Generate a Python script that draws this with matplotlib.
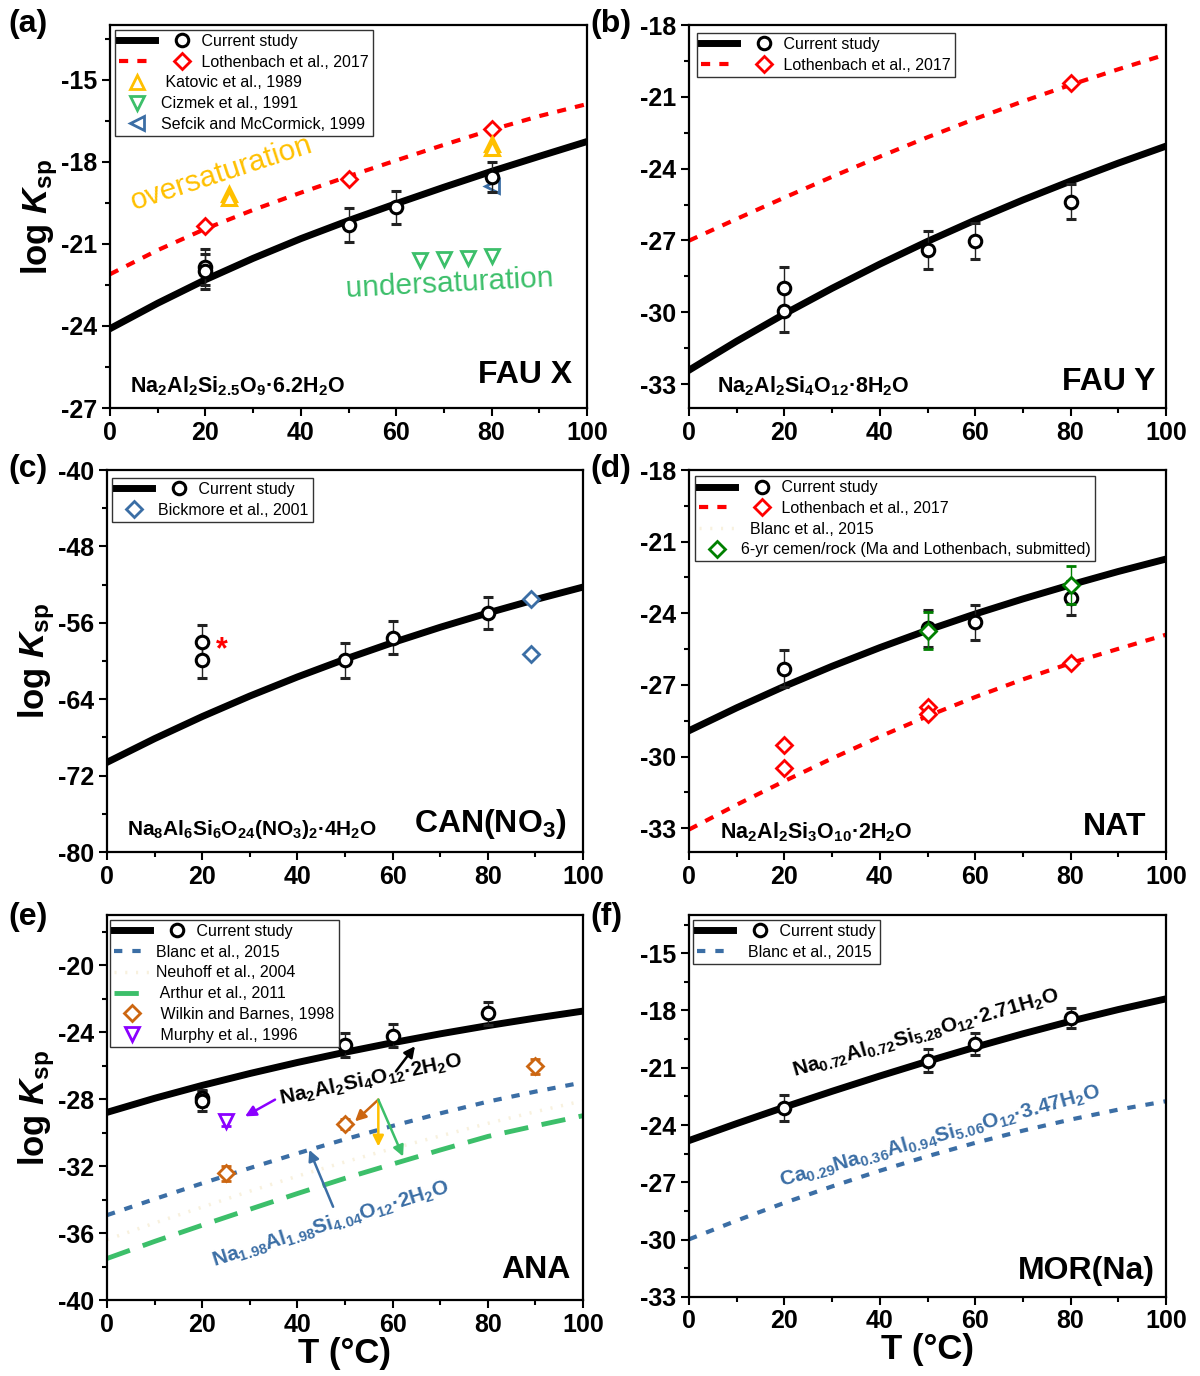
import numpy as np
import matplotlib
matplotlib.use("Agg")
import matplotlib.pyplot as plt
from matplotlib.lines import Line2D
from matplotlib.legend_handler import HandlerBase
from matplotlib.ticker import MultipleLocator

plt.rcParams['font.family'] = ['Liberation Sans', 'DejaVu Sans']
plt.rcParams['axes.unicode_minus'] = False
plt.rcParams['mathtext.fontset'] = 'custom'
plt.rcParams['mathtext.rm'] = 'Liberation Sans:bold'
plt.rcParams['mathtext.it'] = 'Liberation Sans:italic:bold'
plt.rcParams['mathtext.bf'] = 'Liberation Sans:bold'

# colours
RED = '#FF0000'
GOLD = '#FFC000'
GREEN = '#3CBF6A'
BLUE = '#3B6EA5'
ORANGE = '#CC6611'
PURPLE = '#8B00FF'
DKGREEN = '#008000'
FAINT = '#F8F1DE'

# ---------------- data ----------------
T_line = [0, 10, 20, 30, 40, 50, 60, 70, 80, 90, 100]

# (a) FAU X
a_cur_line = [-24.10, -23.17, -22.31, -21.53, -20.81, -20.15, -19.53, -18.93, -18.35, -17.80, -17.26]
a_lot_line = [-22.11, -21.23, -20.45, -19.76, -19.13, -18.53, -17.95, -17.38, -16.83, -16.33, -15.89]
a_cur_T = [20, 20, 50, 60, 80]
a_cur = [-21.84, -22.01, -20.31, -19.67, -18.57]
a_cur_err = [0.65, 0.65, 0.61, 0.59, 0.55]
a_lot_T = [20, 50, 80]
a_lot = [-20.34, -18.63, -16.80]
a_kat_T = [25, 25, 80, 80]
a_kat = [-19.18, -19.32, -17.35, -17.50]
a_ciz_T = [65, 70, 75, 80]
a_ciz = [-21.60, -21.54, -21.50, -21.44]
a_sef_T = [80]
a_sef = [-18.88]

# (b) FAU Y
b_cur_line = [-32.42, -31.21, -30.07, -29.00, -27.99, -27.04, -26.15, -25.31, -24.52, -23.77, -23.06]
b_lot_line = [-27.01, -26.10, -25.21, -24.34, -23.50, -22.69, -21.92, -21.19, -20.50, -19.85, -19.23]
b_cur_T = [20, 20, 50, 60, 80]
b_cur = [-28.99, -29.96, -27.40, -27.01, -25.38]
b_cur_err = [0.88, 0.88, 0.81, 0.75, 0.74]
b_lot_T = [80]
b_lot = [-20.42]

# (c) CAN(NO3)
c_cur_line = [-70.61, -68.13, -65.82, -63.67, -61.67, -59.81, -58.08, -56.47, -54.97, -53.57, -52.26]
c_cur_T = [20, 20, 50, 60, 80]
c_cur = [-58.02, -59.93, -59.93, -57.57, -54.96]
c_cur_err = [1.80, 1.80, 1.83, 1.72, 1.65]
c_bick_T = [89, 89]
c_bick = [-53.5, -59.3]

# (d) NAT
d_cur_line = [-28.92, -27.96, -27.06, -26.22, -25.44, -24.71, -24.03, -23.40, -22.81, -22.25, -21.73]
d_lot_line = [-33.06, -32.02, -31.03, -30.08, -29.17, -28.31, -27.51, -26.77, -26.09, -25.49, -24.90]
d_cur_T = [20, 50, 60, 80]
d_cur = [-26.33, -24.63, -24.38, -23.36]
d_cur_err = [0.77, 0.78, 0.73, 0.71]
d_lot_T = [20, 20, 50, 50, 80]
d_lot = [-29.52, -30.49, -27.91, -28.22, -26.09]
d_ma_T = [50, 80]
d_ma = [-24.73, -22.82]
d_ma_err = [0.78, 0.78]

# (e) ANA
e_cur_line = [-28.79, -27.95, -27.18, -26.47, -25.81, -25.20, -24.63, -24.10, -23.61, -23.16, -22.74]
e_blanc = [-34.93, -33.97, -33.03, -32.12, -31.24, -30.40, -29.60, -28.85, -28.15, -27.55, -27.00]
e_neuhoff = [-36.40, -35.40, -34.45, -33.50, -32.60, -31.75, -30.95, -30.20, -29.45, -28.75, -28.10]
e_arthur = [-37.52, -36.50, -35.53, -34.58, -33.64, -32.73, -31.88, -31.04, -30.23, -29.60, -28.99]
e_cur_T = [20, 20, 50, 60, 80]
e_cur = [-27.93, -28.13, -24.74, -24.20, -22.88]
e_cur_err = [0.50, 0.60, 0.72, 0.70, 0.68]
e_wil_T = [25, 50, 90]
e_wil = [-32.43, -29.49, -26.03]
e_wil_err = [0.45, 0.30, 0.45]
e_mur_T = [25]
e_mur = [-29.33]
e_mur_err = [0.25]

# (f) MOR(Na)
f_cur_line = [-24.81, -23.92, -23.06, -22.23, -21.43, -20.66, -19.92, -19.22, -18.56, -17.95, -17.39]
f_blanc = [-29.98, -29.00, -28.07, -27.21, -26.39, -25.63, -24.93, -24.29, -23.71, -23.19, -22.75]
f_cur_T = [20, 50, 60, 80]
f_cur = [-23.13, -20.63, -19.76, -18.40]
f_cur_err = [0.68, 0.61, 0.58, 0.52]

# ---------------- figure ----------------
W, H = 1200, 1376
fig = plt.figure(figsize=(12, 13.76), dpi=100)


def px_axes(l, t, r, b):
    return fig.add_axes([l / W, 1 - b / H, (r - l) / W, (b - t) / H])


ax_a = px_axes(110, 25, 587, 408)
ax_b = px_axes(689, 25, 1166, 408)
ax_c = px_axes(107, 470, 583, 852)
ax_d = px_axes(689, 470, 1166, 852)
ax_e = px_axes(107, 915, 583, 1300)
ax_f = px_axes(689, 915, 1166, 1297)

LOT_LS = (0, (2.2, 2.2))
BLANC_LS = (0, (2.0, 2.4))
ARTHUR_LS = (0, (5, 2.8))
FAINT_LS = (0, (0.6, 2.5))


def style(ax, ylim, major, minor, ylabel=False, xlabel=False):
    ax.set_xlim(0, 100)
    ax.set_ylim(*ylim)
    ax.xaxis.set_major_locator(MultipleLocator(20))
    ax.xaxis.set_minor_locator(MultipleLocator(10))
    ax.yaxis.set_major_locator(MultipleLocator(major))
    ax.yaxis.set_minor_locator(MultipleLocator(minor))
    ax.tick_params(which='both', direction='out', top=False, right=False, width=1.5)
    ax.tick_params(which='major', length=6, labelsize=18, pad=3)
    ax.tick_params(which='minor', length=3.5)
    for s in ax.spines.values():
        s.set_linewidth(1.6)
    for lab in ax.get_xticklabels() + ax.get_yticklabels():
        lab.set_fontweight('bold')
    if ylabel:
        ax.set_ylabel(r'log $\mathit{K}_\mathrm{sp}$', fontsize=25, fontweight='bold', labelpad=1)
    if xlabel:
        ax.set_xlabel('T (°C)', fontsize=25, fontweight='bold', labelpad=0)


def cur_plot(ax, T, y, err):
    ax.errorbar(T, y, yerr=err, fmt='o', ms=9, mfc='white', mec='k', mew=2.2,
                ecolor='#222222', elinewidth=1, capsize=3.5, capthick=1, zorder=4)


# legend entries: a line in the handle box and/or a marker (beside it, or centred)
class Entry:
    def __init__(self, line=None, marker=None):
        self.line = line
        self.marker = marker


class EntryHandler(HandlerBase):
    def create_artists(self, legend, orig_handle, xdescent, ydescent, width, height, fontsize, trans):
        y = height / 2 - ydescent
        x0 = -xdescent
        arts = []
        if orig_handle.line is not None:
            arts.append(Line2D([x0, x0 + width], [y, y], transform=trans, **orig_handle.line))
        if orig_handle.marker is not None:
            if orig_handle.line is not None:
                xm = x0 + width + 1.7 * fontsize
            else:
                xm = x0 + width / 2
            arts.append(Line2D([xm], [y], ls='none', transform=trans, **orig_handle.marker))
        return arts


CUR_LINE = dict(color='k', lw=5)
CUR_MARK = dict(marker='o', ms=9, mfc='white', mec='k', mew=2.2)
SHIFT = ' ' * 9


def mark(color, marker, ms=10):
    return dict(marker=marker, ms=ms, mfc='white', mec=color, mew=2)


def dline(color, ls, lw=3):
    return dict(color=color, lw=lw, ls=ls)


def legend(ax, handles, labels, anchor):
    leg = ax.legend(handles, labels, loc='upper left', bbox_to_anchor=anchor,
                    handler_map={Entry: EntryHandler()},
                    fontsize=11.5, handlelength=2.25, handletextpad=0.4, labelspacing=0.36,
                    borderpad=0.25, borderaxespad=0, fancybox=False, framealpha=1,
                    edgecolor='#333333')
    leg.get_frame().set_linewidth(1)
    leg.set_zorder(10)


# ---------------- (a) FAU X ----------------
ax = ax_a
ax.plot(T_line, a_cur_line, color='k', lw=5, zorder=2)
ax.plot(T_line, a_lot_line, color=RED, lw=3, ls=LOT_LS, zorder=2)
ax.plot(a_lot_T, a_lot, ls='none', marker='D', ms=8, mfc='white', mec=RED, mew=2, zorder=3)
ax.plot(a_kat_T, a_kat, ls='none', marker='^', ms=10, mfc='white', mec=GOLD, mew=2.2, zorder=3)
ax.plot(a_ciz_T, a_ciz, ls='none', marker='v', ms=10, mfc='white', mec=GREEN, mew=2, zorder=3)
ax.plot(a_sef_T, a_sef, ls='none', marker='<', ms=10, mfc='white', mec=BLUE, mew=2, zorder=3)
cur_plot(ax, a_cur_T, a_cur, a_cur_err)
ax.text(23.4, -18.42, 'oversaturation', color=GOLD, fontsize=21.5, rotation=18,
        ha='center', va='center', rotation_mode='anchor')
ax.text(71.2, -22.46, 'undersaturation', color=GREEN, fontsize=21.5, rotation=3,
        ha='center', va='center', rotation_mode='anchor')
ax.text(4.2, -26.2, r'$\mathrm{Na_2Al_2Si_{2.5}O_9·6.2H_2O}$', fontsize=15.5, ha='left', va='center')
ax.text(96.9, -25.8, 'FAU X', fontsize=23, fontweight='bold', ha='right', va='center')
style(ax, (-27, -13), 3, 1.5, ylabel=True)
legend(ax, [Entry(CUR_LINE, CUR_MARK), Entry(dline(RED, LOT_LS), mark(RED, 'D', 8)),
            Entry(marker=mark(GOLD, '^')), Entry(marker=mark(GREEN, 'v')),
            Entry(marker=mark(BLUE, '<'))],
       [SHIFT + 'Current study', SHIFT + 'Lothenbach et al., 2017', ' Katovic et al., 1989',
        'Cizmek et al., 1991', 'Sefcik and McCormick, 1999'], (0.0105, 0.987))

# ---------------- (b) FAU Y ----------------
ax = ax_b
ax.plot(T_line, b_cur_line, color='k', lw=5, zorder=2)
ax.plot(T_line, b_lot_line, color=RED, lw=3, ls=LOT_LS, zorder=2)
ax.plot(b_lot_T, b_lot, ls='none', marker='D', ms=8, mfc='white', mec=RED, mew=2, zorder=3)
cur_plot(ax, b_cur_T, b_cur, b_cur_err)
ax.text(5.9, -33.1, r'$\mathrm{Na_2Al_2Si_4O_{12}·8H_2O}$', fontsize=15.5, ha='left', va='center')
ax.text(97.7, -32.93, 'FAU Y', fontsize=23, fontweight='bold', ha='right', va='center')
style(ax, (-34, -18), 3, 1.5)
legend(ax, [Entry(CUR_LINE, CUR_MARK), Entry(dline(RED, LOT_LS), mark(RED, 'D', 8))],
       [SHIFT + 'Current study', SHIFT + 'Lothenbach et al., 2017'], (0.0168, 0.979))

# ---------------- (c) CAN(NO3) ----------------
ax = ax_c
ax.plot(T_line, c_cur_line, color='k', lw=5, zorder=2)
ax.plot(c_bick_T, c_bick, ls='none', marker='D', ms=8, mfc='white', mec=BLUE, mew=2, zorder=3)
cur_plot(ax, c_cur_T, c_cur, c_cur_err)
ax.text(24.2, -58.9, '*', color=RED, fontsize=22, fontweight='bold', ha='center', va='center')
ax.text(4.2, -77.67, r'$\mathrm{Na_8Al_6Si_6O_{24}(NO_3)_2·4H_2O}$', fontsize=15, ha='left', va='center')
ax.text(96.6, -77.05, r'$\mathrm{CAN(NO_3)}$', fontsize=23, ha='right', va='center')
style(ax, (-80, -40), 8, 4, ylabel=True)
legend(ax, [Entry(CUR_LINE, CUR_MARK), Entry(marker=mark(BLUE, 'D', 8))],
       [SHIFT + 'Current study', 'Bickmore et al., 2001'], (0.0105, 0.979))

# ---------------- (d) NAT ----------------
ax = ax_d
ax.plot(T_line, d_cur_line, color='k', lw=5, zorder=2)
ax.plot(T_line, d_lot_line, color=RED, lw=3, ls=LOT_LS, zorder=2)
ax.plot(d_lot_T, d_lot, ls='none', marker='D', ms=8, mfc='white', mec=RED, mew=2, zorder=3)
cur_plot(ax, d_cur_T, d_cur, d_cur_err)
ax.errorbar(d_ma_T, d_ma, yerr=d_ma_err, fmt='D', ms=8, mfc='white', mec=DKGREEN, mew=2,
            ecolor=DKGREEN, elinewidth=1, capsize=3.5, capthick=1, zorder=5)
ax.text(6.5, -33.16, r'$\mathrm{Na_2Al_2Si_3O_{10}·2H_2O}$', fontsize=15.5, ha='left', va='center')
ax.text(95.8, -32.94, 'NAT', fontsize=23, fontweight='bold', ha='right', va='center')
style(ax, (-34, -18), 3, 1.5)
legend(ax, [Entry(CUR_LINE, CUR_MARK), Entry(dline(RED, LOT_LS), mark(RED, 'D', 8)),
            Entry(line=dline(FAINT, FAINT_LS, 2.5)), Entry(marker=mark(DKGREEN, 'D', 8))],
       [SHIFT + 'Current study', SHIFT + 'Lothenbach et al., 2017', '  Blanc et al., 2015',
        '6-yr cemen/rock (Ma and Lothenbach, submitted)'], (0.0126, 0.984))

# ---------------- (e) ANA ----------------
ax = ax_e
ax.plot(T_line, e_cur_line, color='k', lw=5, zorder=2)
ax.plot(T_line, e_blanc, color=BLUE, lw=3, ls=BLANC_LS, zorder=2)
ax.plot(T_line, e_neuhoff, color=FAINT, lw=2.5, ls=FAINT_LS, zorder=1)
ax.plot(T_line, e_arthur, color=GREEN, lw=3.5, ls=ARTHUR_LS, zorder=2)
ax.errorbar(e_wil_T, e_wil, yerr=e_wil_err, fmt='D', ms=8, mfc='white', mec=ORANGE, mew=2,
            ecolor=ORANGE, elinewidth=1, capsize=3.5, capthick=1, zorder=3)
ax.errorbar(e_mur_T, e_mur, yerr=e_mur_err, fmt='v', ms=10, mfc='white', mec=PURPLE, mew=2,
            ecolor=PURPLE, elinewidth=1, capsize=3.5, capthick=1, zorder=3)
cur_plot(ax, e_cur_T, e_cur, e_cur_err)


def arrow(ax, start, end, color):
    ax.annotate('', xy=end, xytext=start,
                arrowprops=dict(arrowstyle='-|>', color=color, lw=1.8, mutation_scale=16,
                                shrinkA=0, shrinkB=0))


arrow(ax, (60.7, -26.34), (64.7, -24.84), 'k')
arrow(ax, (35.3, -28.03), (29.0, -29.03), PURPLE)
arrow(ax, (57.0, -28.03), (52.1, -29.33), ORANGE)
arrow(ax, (57.0, -28.03), (57.0, -30.83), GOLD)
arrow(ax, (57.0, -28.03), (62.2, -31.43), GREEN)
arrow(ax, (47.5, -34.43), (42.5, -31.03), BLUE)
ax.text(55.5, -26.83, r'$\mathrm{Na_2Al_2Si_4O_{12}·2H_2O}$', fontsize=15, rotation=12,
        ha='center', va='center', rotation_mode='anchor')
ax.text(47.1, -35.47, r'$\mathrm{Na_{1.98}Al_{1.98}Si_{4.04}O_{12}·2H_2O}$', color=BLUE,
        fontsize=15, rotation=17.5, ha='center', va='center', rotation_mode='anchor')
ax.text(97.3, -38.2, 'ANA', fontsize=23, fontweight='bold', ha='right', va='center')
style(ax, (-40, -17), 4, 2, ylabel=True, xlabel=True)
legend(ax, [Entry(CUR_LINE, CUR_MARK), Entry(line=dline(BLUE, BLANC_LS)),
            Entry(line=dline(FAINT, FAINT_LS, 2.5)), Entry(line=dline(GREEN, ARTHUR_LS, 3.5)),
            Entry(marker=mark(ORANGE, 'D', 8)), Entry(marker=mark(PURPLE, 'v'))],
       [SHIFT + 'Current study', 'Blanc et al., 2015', 'Neuhoff et al., 2004',
        ' Arthur et al., 2011', ' Wilkin and Barnes, 1998', ' Murphy et al., 1996'],
       (0.0063, 0.987))

# ---------------- (f) MOR(Na) ----------------
ax = ax_f
ax.plot(T_line, f_cur_line, color='k', lw=5, zorder=2)
ax.plot(T_line, f_blanc, color=BLUE, lw=3, ls=BLANC_LS, zorder=2)
cur_plot(ax, f_cur_T, f_cur, f_cur_err)
ax.text(49.7, -19.2, r'$\mathrm{Na_{0.72}Al_{0.72}Si_{5.28}O_{12}·2.71H_2O}$', fontsize=15,
        rotation=16, ha='center', va='center', rotation_mode='anchor')
ax.text(52.6, -24.58, r'$\mathrm{Ca_{0.29}Na_{0.36}Al_{0.94}Si_{5.06}O_{12}·3.47H_2O}$', color=BLUE,
        fontsize=15, rotation=15.7, ha='center', va='center', rotation_mode='anchor')
ax.text(97.7, -31.64, 'MOR(Na)', fontsize=23, fontweight='bold', ha='right', va='center')
style(ax, (-33, -13), 3, 1.5, xlabel=True)
legend(ax, [Entry(CUR_LINE, CUR_MARK), Entry(line=dline(BLUE, BLANC_LS))],
       [SHIFT + 'Current study', '  Blanc et al., 2015'], (0.0084, 0.987))

# panel letters
for lab, x, y in [('(a)', 8, 24), ('(b)', 590, 24), ('(c)', 8, 469),
                  ('(d)', 590, 469), ('(e)', 8, 917), ('(f)', 590, 917)]:
    fig.text(x / W, 1 - y / H, lab, fontsize=23, fontweight='bold', ha='left', va='center')

fig.savefig('out.png', dpi=100)
